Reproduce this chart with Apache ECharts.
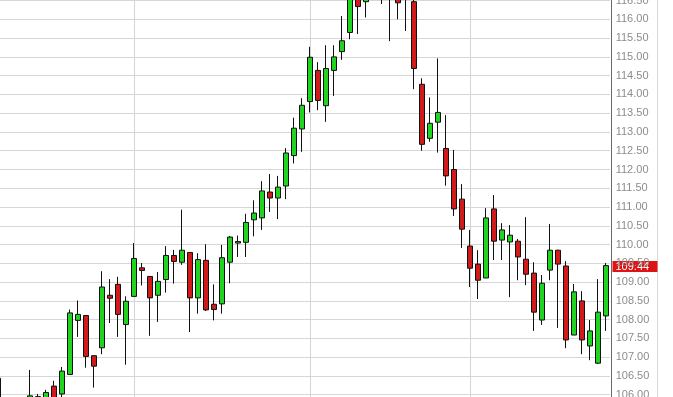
<!DOCTYPE html>
<html><head><meta charset="utf-8">
<script src="https://cdn.jsdelivr.net/npm/echarts@6/dist/echarts.min.js"></script>
<style>html,body{margin:0;padding:0;background:#fff;overflow:hidden}#c{width:673px;height:397px}</style>
</head><body><div id="c"></div>
<script>
// ---- data ----
const opens = [106.44,105.8,105.6,105.5,105.92,105.9,105.85,106.23,106.02,106.54,
  107.98,108.11,107.04,107.25,108.65,108.94,107.87,108.62,109.38,109.15,
  108.65,109.07,109.71,109.53,109.79,108.58,109.58,108.41,108.42,109.53,
  110.04,110.06,110.66,110.71,111.40,111.24,111.56,112.37,113.08,113.81,
  114.64,113.70,114.64,115.14,115.65,116.75,116.47,116.90,117.00,116.70,
  116.80,116.60,116.47,114.27,112.83,113.26,112.56,112.00,111.21,109.96,
  109.48,109.11,110.95,110.12,110.07,110.09,109.61,109.24,107.99,109.32,
  109.85,109.43,107.59,108.50,107.30,106.84,108.10];
const closes = [105.8,105.6,105.5,105.8,105.97,105.95,106.06,105.9,106.63,108.18,
  108.14,107.02,106.76,108.87,108.57,108.14,108.49,109.63,109.31,108.58,
  109.02,109.71,109.55,109.85,108.58,109.60,108.26,108.27,109.65,110.20,
  110.08,110.59,110.84,111.43,111.24,111.53,112.44,113.10,113.71,114.99,
  113.84,114.69,115.00,115.43,116.62,116.34,116.80,117.10,116.80,116.90,
  116.44,116.70,114.69,112.67,113.23,113.52,111.83,110.95,110.41,109.37,
  109.05,110.71,110.09,110.39,110.25,109.67,109.21,108.20,108.97,109.85,
  109.48,107.46,108.74,107.46,107.70,108.20,109.44];
const lows = [105.6,105.4,105.3,105.35,105.7,105.7,105.75,105.8,105.93,106.54,
  107.54,106.72,106.19,107.08,107.91,107.54,106.80,108.62,108.91,107.57,
  107.94,108.72,108.96,109.46,107.67,108.16,108.23,107.98,108.16,108.97,
  109.67,109.67,110.22,110.39,110.87,110.68,111.21,112.16,112.47,113.52,
  113.58,113.27,113.96,114.92,115.47,115.61,116.05,116.60,116.41,115.42,
  116.00,115.69,114.14,112.50,112.74,112.45,111.57,110.76,109.91,108.87,
  108.55,109.11,109.59,109.59,108.60,109.05,108.92,107.70,107.86,109.05,
  107.78,107.24,107.59,107.08,106.92,106.82,107.70];
const highs = [106.50,105.9,105.85,105.9,106.66,106.02,106.13,106.37,106.74,108.27,
  108.51,108.12,107.05,109.29,109.08,109.14,108.62,110.04,109.51,109.16,
  109.27,109.96,109.86,110.93,109.80,109.77,110.01,108.94,109.99,110.23,
  110.24,110.82,111.18,111.69,111.88,111.83,112.57,113.38,113.90,115.27,
  114.86,115.31,115.31,116.09,116.85,116.90,117.00,117.30,117.20,117.10,
  116.95,116.90,116.60,114.43,113.92,114.96,113.45,112.52,111.61,110.39,
  109.85,110.97,111.32,110.57,110.52,110.15,110.73,109.53,109.19,110.55,
  109.86,109.56,108.95,108.76,107.99,109.08,109.51];
const categories = opens.map((_, i) => 'Day ' + (i + 1));
const monthStarts = [17, 39, 59];          // candles on which a new month begins
const yMin = 105.5, yMax = 117.0, yStep = 0.5;
const lastPrice = 109.44;

// ---- build ----
const candleData = opens.map((o, i) => [o, closes[i], lows[i], highs[i]]);
const halfCats = [];
for (let i = 0; i < categories.length * 2 + 1; i++) halfCats.push('h' + i);
const splitIdx = monthStarts.map(i => 2 * i + 1);

const chart = echarts.init(document.getElementById('c'), null, {renderer: 'canvas'});
chart.setOption({
  animation: false,
  backgroundColor: '#ffffff',
  grid: {left: -6, width: categories.length * 8, top: -18.2, height: 431.7,
         containLabel: false, outerBoundsMode: 'none'},
  xAxis: [
    {type: 'category', data: categories, boundaryGap: true,
     axisLine: {show: false}, axisTick: {show: false}, axisLabel: {show: false},
     splitLine: {show: false}},
    {type: 'category', data: halfCats, boundaryGap: false, position: 'bottom',
     axisLine: {show: false}, axisTick: {show: false}, axisLabel: {show: false},
     splitLine: {show: true, interval: (idx) => splitIdx.indexOf(idx) >= 0,
                 lineStyle: {color: '#d4d4d4', width: 1}}}
  ],
  yAxis: {
    type: 'value', position: 'right', min: yMin, max: yMax, interval: yStep,
    offset: 1.7, scale: true,
    axisLine: {show: true, lineStyle: {color: '#6a6a6a', width: 1}},
    axisTick: {show: false},
    axisLabel: {show: true, margin: 4, color: '#8c8c8c', fontSize: 11,
                padding: [2, 0, 0, 0],
                fontFamily: 'Liberation Sans, Arial, sans-serif',
                formatter: (v) => v.toFixed(2)},
    splitLine: {show: true, lineStyle: {color: '#d6d6d6', width: 1}}
  },
  series: [{
    type: 'candlestick', xAxisIndex: 0, data: candleData, barWidth: 5, clip: true,
    itemStyle: {color: '#22d422', color0: '#d11a1a',
                borderColor: '#111111', borderColor0: '#111111', borderWidth: 1}
  }]
});

const py = chart.convertToPixel({yAxisIndex: 0}, lastPrice);
chart.setOption({
  graphic: [
    {type: 'line', shape: {x1: 657.5, y1: 0, x2: 657.5, y2: 397},
     style: {stroke: '#d8d8d8', lineWidth: 1}, silent: true},
    {type: 'rect', shape: {x: 612.5, y: Math.round(py) - 5, width: 45, height: 11},
     style: {fill: '#dd1414'}, silent: true},
    {type: 'text', x: 615.5, y: py + 1,
     style: {text: lastPrice.toFixed(2), fill: '#ffffff', fontSize: 11,
             fontFamily: 'Liberation Sans, Arial, sans-serif', verticalAlign: 'middle'},
     silent: true}
  ]
});
</script>
</body></html>
